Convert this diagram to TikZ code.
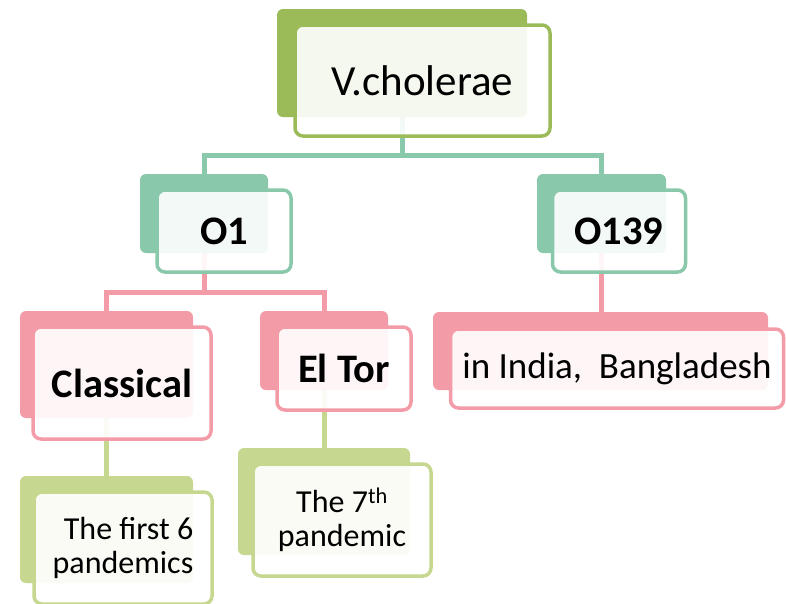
\documentclass[tikz,border=0pt]{standalone}
\usepackage{fontspec}
\setmainfont{Carlito}
\usetikzlibrary{positioning, backgrounds}
\definecolor{topgreen}{RGB}{155, 187, 89}
\definecolor{midteal}{RGB}{137, 200, 171}
\definecolor{lowpink}{RGB}{243, 156, 167}
\definecolor{leafgreen}{RGB}{198, 215, 143}
\begin{document}
\begin{tikzpicture}[
          x=1pt, y=-1pt,
          back/.style={fill=#1, rounded corners=6pt, inner sep=0pt},
          front/.style={draw=#1, line width=3.5pt, fill=white, fill opacity=0.9,
                        text opacity=1, rounded corners=8pt, inner sep=0pt, align=center},
          link/.style={draw=#1, line width=5pt},
          huge/.style={font=\fontsize{43}{50}\selectfont},
          bighead/.style={font=\fontsize{40.5}{48}\selectfont\bfseries},
          mid/.style={font=\fontsize{37}{42}\selectfont},
          small/.style={font=\fontsize{32}{34.5}\selectfont},
        ]
        \useasboundingbox (0,0) rectangle (786,603);

        \node[back=topgreen, minimum width=250pt, minimum height=108pt] (vchb) at (402,63) {};
        \node[front=topgreen, minimum width=255pt, minimum height=111pt, huge] (vch) at (422.5,80.5) {V.cholerae};

        \node[back=midteal, minimum width=128pt, minimum height=79pt] (o1b) at (204,213.5) {};
        \node[front=midteal, minimum width=134pt, minimum height=82pt, bighead] (o1) at (224,231) {O1};

        \node[back=midteal, minimum width=129pt, minimum height=79pt] (o139b) at (601.5,213.5) {};
        \node[front=midteal, minimum width=133pt, minimum height=82pt, bighead] (o139) at (619,231) {O139};

        \node[back=lowpink, minimum width=173pt, minimum height=107pt] (clsb) at (106.5,364.5) {};
        \node[front=lowpink, minimum width=178pt, minimum height=112pt, bighead] (cls) at (122,383) {Classical};

        \node[back=lowpink, minimum width=128pt, minimum height=79pt] (eltb) at (324,350.5) {};
        \node[front=lowpink, minimum width=134pt, minimum height=83pt, bighead] (elt) at (344,368.5) {El Tor};

        \node[back=lowpink, minimum width=335pt, minimum height=78pt] (indb) at (600.5,351) {};
        \node[front=lowpink, minimum width=333pt, minimum height=79pt, mid] (ind) at (617,368.5) {in India,\ \ Bangladesh};

        \node[back=leafgreen, minimum width=173pt, minimum height=107pt] (sixb) at (106.5,529.5) {};
        \node[front=leafgreen, minimum width=178pt, minimum height=112pt, small, align=right] (six) at (123,548) {The first 6\\pandemics};

        \node[back=leafgreen, minimum width=172pt, minimum height=107pt] (sevb) at (324,501.5) {};
        \node[front=leafgreen, minimum width=178pt, minimum height=112pt, small] (sev) at (342,520) {The 7\textsuperscript{th}\\pandemic};

        \begin{scope}[on background layer]
          \draw[link=midteal] (vchb.south) -- ++(0,38) -| (o1b.north);
          \draw[link=midteal] (vchb.south) -- ++(0,38) -| (o139b.north);
          \draw[link=lowpink] (o1b.south) -- ++(0,39) -| (clsb.north);
          \draw[link=lowpink] (o1b.south) -- ++(0,39) -| (eltb.north);
          \draw[link=lowpink] (o139b.south) -- (o139b.south |- indb.north);
          \draw[link=leafgreen] (clsb.south) -- (sixb.north);
          \draw[link=leafgreen] (eltb.south) -- (sevb.north);
        \end{scope}
      \end{tikzpicture}
\end{document}
